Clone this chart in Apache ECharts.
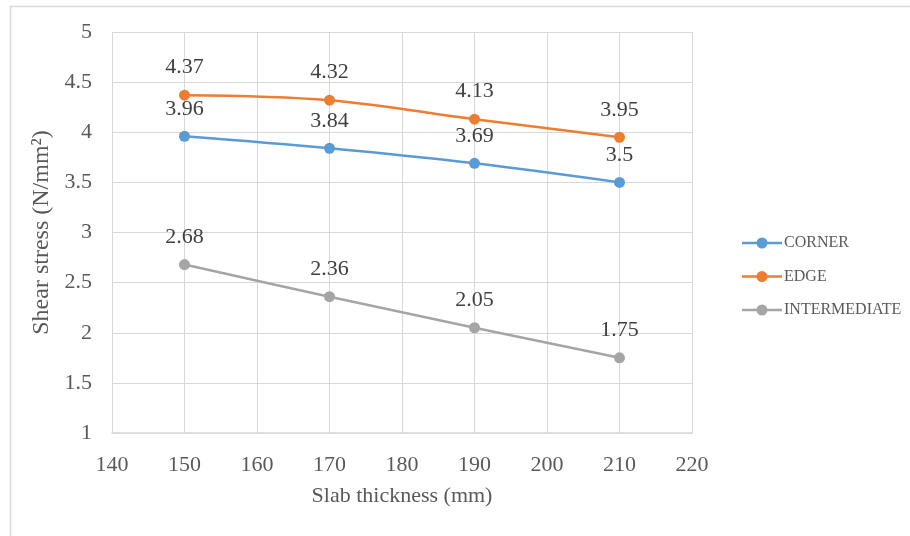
<!DOCTYPE html>
<html><head><meta charset="utf-8">
<script src="https://cdn.jsdelivr.net/npm/echarts@6/dist/echarts.min.js"></script>
<style>html,body{margin:0;padding:0;background:#fff}#c{width:910px;height:536px}</style>
</head><body><div id="c"></div>
<script>
const thickness = [150, 170, 190, 210];
const corner = [3.96, 3.84, 3.69, 3.5];
const edge = [4.37, 4.32, 4.13, 3.95];
const intermediate = [2.68, 2.36, 2.05, 1.75];
const seriesNames = ['CORNER', 'EDGE', 'INTERMEDIATE'];
const colors = ['#5B9BD5', '#ED7D31', '#A5A5A5'];
const FONT = '"Liberation Serif", "Times New Roman", serif';
const LEGEND_ICON = 'path://M0,4.8h15v2.4h-15z M25,4.8h15v2.4h-15z M14.5,6a5.5,5.5 0 1,1 11,0a5.5,5.5 0 1,1 -11,0z';

function pairs(vals){ return thickness.map((x,i)=>[x, vals[i]]); }
function mk(name, vals, color){
  return {
    name, type:'line', data: pairs(vals), smooth: 0.35,
    symbol:'circle', symbolSize: 11,
    itemStyle:{color},
    lineStyle:{color, width:2.5},
    label:{show:true, position:'top', distance:11, fontFamily:FONT, fontSize:22, color:'#404040'},
    emphasis:{disabled:true}
  };
}
const chart = echarts.init(document.getElementById('c'));
chart.setOption({
  animation:false,
  textStyle:{fontFamily:FONT},
  graphic:[{type:'rect', shape:{x:10.5,y:6.5,width:920,height:560}, style:{fill:'none', stroke:'#d9d9d9', lineWidth:1.5}, silent:true}],
  grid:{left:112, right:218, top:32, bottom:103, containLabel:false},
  legend:{
    orient:'vertical', left:737, top:230, itemWidth:40, itemHeight:12, itemGap:17.5,
    icon: LEGEND_ICON,
    data: seriesNames,
    textStyle:{fontFamily:FONT, fontSize:16, color:'#595959', padding:[0,0,0,-3]}
  },
  xAxis:{
    type:'value', min:140, max:220, interval:10,
    name:'Slab thickness (mm)', nameLocation:'middle', nameGap:52,
    nameTextStyle:{fontFamily:FONT, fontSize:22, color:'#595959'},
    axisLine:{show:true, lineStyle:{color:'#d9d9d9', width:1.5}},
    axisTick:{show:false},
    axisLabel:{margin:21, fontFamily:FONT, fontSize:22, color:'#595959'},
    splitLine:{show:true, lineStyle:{color:'#d9d9d9', width:1}}
  },
  yAxis:{
    type:'value', min:1, max:5, interval:0.5,
    name:'Shear stress (N/mm²)', nameLocation:'middle', nameGap:54,
    nameTextStyle:{fontFamily:FONT, fontSize:24, color:'#595959'},
    axisLine:{show:false}, axisTick:{show:false},
    axisLabel:{margin:20, fontFamily:FONT, fontSize:22, color:'#595959'},
    splitLine:{show:true, lineStyle:{color:'#d9d9d9', width:1}}
  },
  series:[mk(seriesNames[0], corner, colors[0]), mk(seriesNames[1], edge, colors[1]), mk(seriesNames[2], intermediate, colors[2])]
});
</script></body></html>
